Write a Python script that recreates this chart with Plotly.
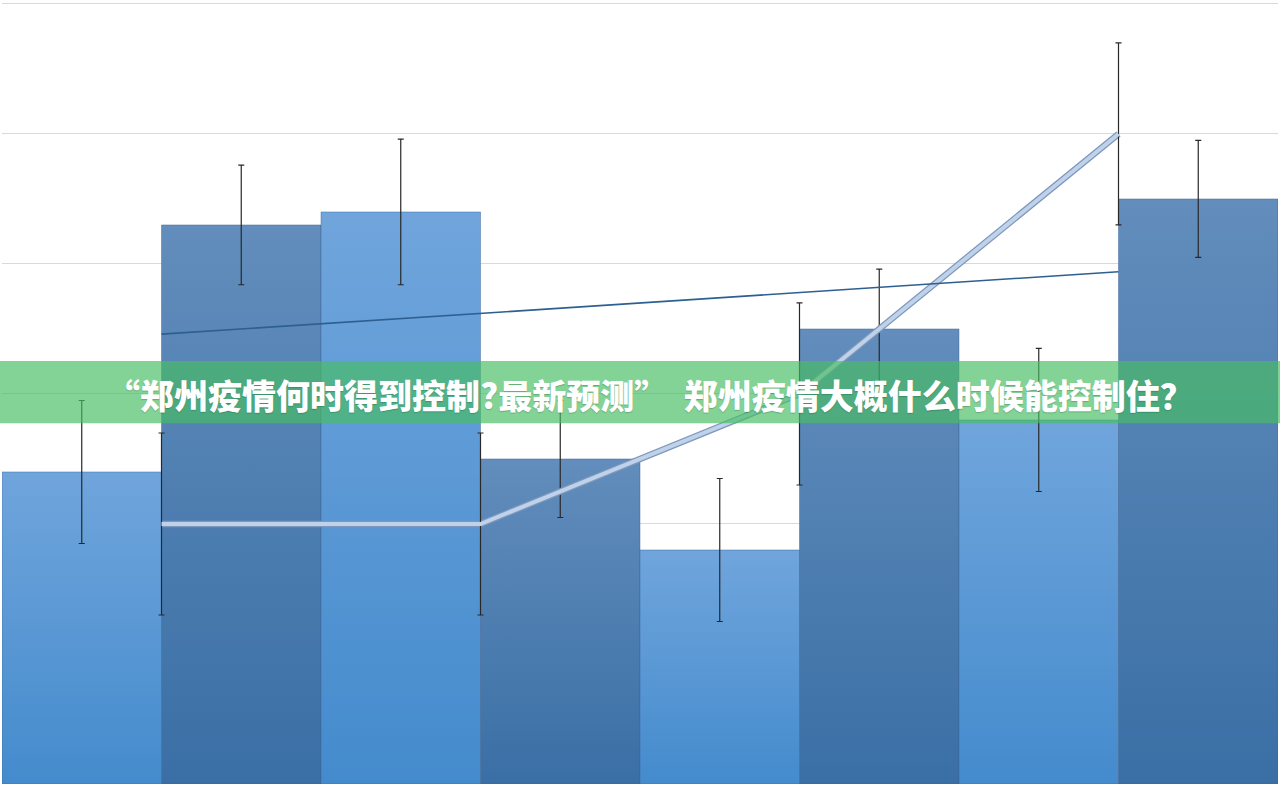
import plotly.graph_objects as go

# --- data ---
bar_pos = [0, 1, 2, 3, 4, 5, 6, 7]
bar_vals = [24, 43, 44, 25, 18, 35, 28, 45]
bar_err = [5.5, 4.6, 5.6, 4.5, 5.5, 4.6, 5.5, 4.5]

line_pos = [0.5, 2.5, 4.5, 6.5]
line_vals = [20, 20, 30, 50]
line_err = [7, 7, 7, 7]

trend_pos = [0.5, 6.5]
trend_vals = [34.6, 39.4]

banner_text = "“郑州疫情何时得到控制?最新预测”  郑州疫情大概什么时候能控制住？"

# gradient (bottom, top) for the two alternating bar styles
light_grad = ["rgb(68,139,205)", "rgb(112,165,220)"]
dark_grad = ["rgb(58,111,165)", "rgb(98,141,188)"]
half_w = 0.5

fig = go.Figure()

# bars drawn as filled shapes so they can carry a vertical gradient
for i, (x, v) in enumerate(zip(bar_pos, bar_vals)):
    g = light_grad if i % 2 == 0 else dark_grad
    fig.add_trace(go.Scatter(
        x=[x - half_w, x - half_w, x + half_w, x + half_w, x - half_w],
        y=[0, v, v, 0, 0],
        mode="lines", fill="toself",
        line=dict(color="rgba(60,100,150,0.45)", width=1),
        fillgradient=dict(type="vertical", colorscale=[[0, g[0]], [1, g[1]]]),
        hoverinfo="skip",
    ))

fig.add_trace(go.Scatter(
    x=bar_pos, y=bar_vals, mode="markers", marker=dict(size=1, opacity=0),
    error_y=dict(type="data", array=bar_err, color="rgb(40,40,40)", thickness=1.2, width=3),
    hoverinfo="y",
))

# light line with darker edge
fig.add_trace(go.Scatter(
    x=line_pos, y=line_vals, mode="lines",
    line=dict(color="rgb(125,152,188)", width=6.5),
    hoverinfo="skip",
))
fig.add_trace(go.Scatter(
    x=line_pos, y=line_vals, mode="lines",
    line=dict(color="rgb(192,210,233)", width=4),
    error_y=dict(type="data", array=line_err, color="rgb(40,40,40)", thickness=1.2, width=3),
))

fig.add_trace(go.Scatter(
    x=trend_pos, y=trend_vals, mode="lines",
    line=dict(color="rgb(45,95,145)", width=1.6),
))

# green banner across the middle
fig.add_shape(type="rect", xref="paper", yref="paper",
              x0=-0.01, x1=1.01, y0=0.4614, y1=0.5409,
              fillcolor="rgba(72,189,98,0.67)", line_width=0, layer="above")
fig.add_annotation(
    text=banner_text, xref="paper", yref="paper", x=0.508, y=0.4975,
    xanchor="center", yanchor="middle", showarrow=False,
    font=dict(family="Noto Sans CJK SC", size=34, color="white", weight=900,
              shadow="0px 1px 1px rgba(0,60,30,0.25)"),
)

fig.update_layout(
    width=1280, height=785,
    margin=dict(l=2, r=2, t=2, b=1),
    paper_bgcolor="white", plot_bgcolor="white",
    showlegend=False,
    xaxis=dict(range=[-0.5, 7.5], showgrid=False, zeroline=False,
               showticklabels=False, ticks=""),
    yaxis=dict(range=[0, 60.15], tick0=0, dtick=10, showgrid=True,
               gridcolor="rgb(217,217,217)", gridwidth=1, zeroline=False,
               showticklabels=False, ticks=""),
)

fig.write_html("out.html", config={"displayModeBar": False},
               post_script="document.body.style.margin='0';"
                           "document.body.style.overflow='hidden';")
